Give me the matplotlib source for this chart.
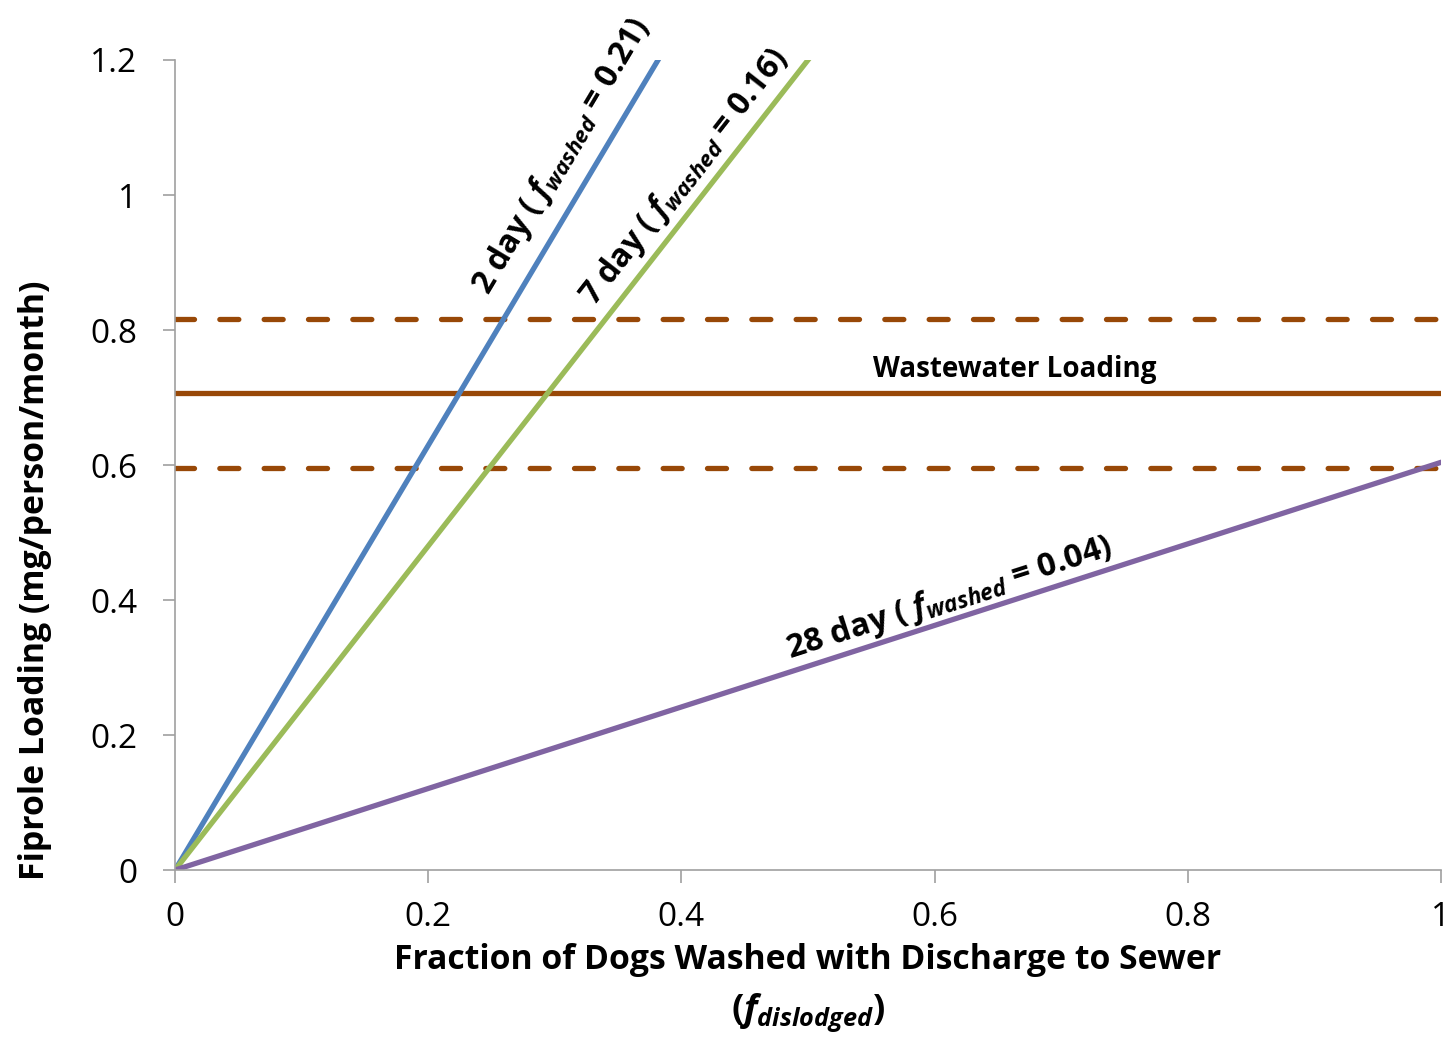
import matplotlib
matplotlib.use("Agg")
import matplotlib.pyplot as plt
import numpy as np

# data
x_ends = [0, 1]
blue_y = [0, 3.145]     # 2 day, f_washed = 0.21
green_y = [0, 2.40]     # 7 day, f_washed = 0.16
purple_y = [0, 0.604]   # 28 day, f_washed = 0.04
ww_mean = 0.707
ww_high = 0.817
ww_low = 0.596
xticks = [0, 0.2, 0.4, 0.6, 0.8, 1]
xtick_labels = ["0", "0.2", "0.4", "0.6", "0.8", "1"]
yticks = [0, 0.2, 0.4, 0.6, 0.8, 1, 1.2]
ytick_labels = ["0", "0.2", "0.4", "0.6", "0.8", "1", "1.2"]

plt.rcParams['font.family'] = ['Open Sans', 'DejaVu Sans']
plt.rcParams['mathtext.fontset'] = 'custom'
plt.rcParams['mathtext.rm'] = 'Open Sans:bold'
plt.rcParams['mathtext.it'] = 'Open Sans:italic:bold'
plt.rcParams['mathtext.bf'] = 'Open Sans:bold'

blue = '#4F81BD'
green = '#9BBB59'
purple = '#8064A2'
brown = '#984807'
gray = '#A0A0A0'

fig = plt.figure(figsize=(14.56, 10.38), dpi=100)
ax = fig.add_axes([0.1202, 0.1618, 0.8695, 0.7804])

lw = 3.8
ax.plot(x_ends, [ww_high, ww_high], color=brown, lw=lw, dashes=(3.6, 4.8), dash_capstyle='round')
ax.plot(x_ends, [ww_mean, ww_mean], color=brown, lw=lw)
ax.plot(x_ends, [ww_low, ww_low], color=brown, lw=lw, dashes=(3.6, 4.8), dash_capstyle='round')
ax.plot(x_ends, blue_y, color=blue, lw=lw)
ax.plot(x_ends, green_y, color=green, lw=lw)
ax.plot(x_ends, purple_y, color=purple, lw=lw)

ax.set_xlim(0, 1)
ax.set_ylim(0, 1.2)
ax.set_xticks(xticks)
ax.set_xticklabels(xtick_labels)
ax.set_yticks(yticks)
ax.set_yticklabels(ytick_labels)
ax.tick_params(axis='both', labelsize=24, color=gray, length=9, width=1.2)
ax.tick_params(axis='x', pad=13)
ax.tick_params(axis='y', pad=18)
for s in ['top', 'right']:
    ax.spines[s].set_visible(False)
for s in ['left', 'bottom']:
    ax.spines[s].set_color(gray)
    ax.spines[s].set_linewidth(1.2)

# line labels
ax.text(0.3057, 1.057, r"2 day ( $\mathit{f}_{\mathit{washed}}$ = 0.21)", fontsize=23,
        fontweight='bold', rotation=59.2, rotation_mode='anchor', ha='center', va='center')
ax.text(0.4028, 1.026, r"7 day ( $\mathit{f}_{\mathit{washed}}$ = 0.16)", fontsize=23,
        fontweight='bold', rotation=52.0, rotation_mode='anchor', ha='center', va='center')
ax.text(0.612, 0.403, r"28 day ( $\mathit{f}_{\mathit{washed}}$ = 0.04)", fontsize=23.5,
        fontweight='bold', rotation=17.8, rotation_mode='anchor', ha='center', va='center')
ax.text(0.6635, 0.741, "Wastewater Loading", fontsize=20, fontweight='bold',
        ha='center', va='center')

ax.set_xlabel("Fraction of Dogs Washed with Discharge to Sewer", fontsize=24.3, fontweight='bold')
ax.xaxis.set_label_coords(0.5, -0.111)
ax.xaxis.label.set_va('center')
ax.text(0.5, -0.1765, r"($\mathit{f}_{\mathit{dislodged}}$)", fontsize=26, fontweight='bold',
        ha='center', va='center', transform=ax.transAxes)

ax.set_ylabel("Fiprole Loading (mg/person/month)", fontsize=24.4, fontweight='bold')
ax.yaxis.set_label_coords(-0.1106, 0.358)
ax.yaxis.label.set_va('center')

fig.savefig("out.png", dpi=100)
